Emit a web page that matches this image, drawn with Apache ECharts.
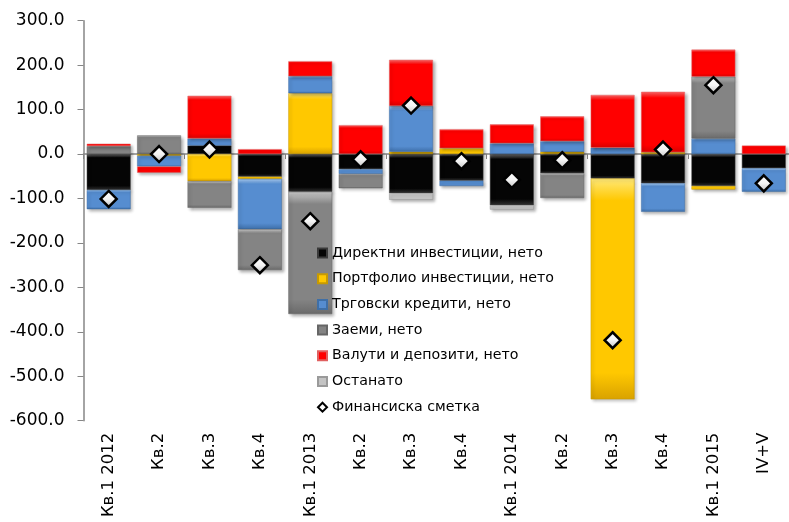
<!DOCTYPE html>
<html>
<head>
<meta charset="utf-8">
<script src="https://cdn.jsdelivr.net/npm/echarts@6/dist/echarts.min.js"></script>
<style>
  html, body { margin: 0; padding: 0; background: #fff; }
  #chart { width: 789px; height: 522px; }
</style>
</head>
<body>
<div id="chart"></div>
<script>
// Quarterly categories
const categories = ['Кв.1 2012', 'Кв.2', 'Кв.3', 'Кв.4', 'Кв.1 2013', 'Кв.2', 'Кв.3', 'Кв.4',
                    'Кв.1 2014', 'Кв.2', 'Кв.3', 'Кв.4', 'Кв.1 2015', 'IV+V'];

// Components of the financial account (stacked)
const directInvestment    = [-81, 0, 19, -51, -85, -34, -88, -60, -115, -43, -55, -66, -72, -32];
const portfolioInvestment = [0, -4, -61, -5, 137, 0, 5, 13, 0, 5, -497, 4, -8, 0];
const tradeCredits        = [-43, -24, 16, -113, 38, -11, 103, -12, 24, 24, 14, -64, 35, -53];
const loans               = [18, 42, -60, -92, -275, -32, 0, 0, 0, -56, 0, 0, 139, 0];
const currencyDeposits    = [5, -14, 96, 11, 34, 65, 104, 43, 43, 56, 119, 136, 61, 19];
const otherItems          = [0, 0, 0, 0, 0, 0, -15, 0, -10, 0, 0, 0, 0, 0];

// Financial account total
const financialAccount    = [-101, 0, 10, -250, -151, -12, 109, -16, -58, -14, -419, 10, 155, -66];

// Y axis range
const yMin = -600, yMax = 300, yStep = 100;

const FONT = 'DejaVu Sans';
const AXIS_GREY = '#868686';

// Bevelled fill: light top edge, flat body, darker bottom edge
function bevel(light, main, dark) {
  return new echarts.graphic.LinearGradient(0, 0, 0, 1, [
    { offset: 0, color: light },
    { offset: 0.1, color: main },
    { offset: 0.88, color: main },
    { offset: 1, color: dark }
  ]);
}

const barShadow = {
  shadowBlur: 3,
  shadowOffsetX: 2,
  shadowOffsetY: 2,
  shadowColor: 'rgba(0,0,0,0.3)'
};

// empty components are left out of the stack so they leave no outline
const skipZero = arr => arr.map(v => (v === 0 ? null : v));

function barSeries(name, data, fill, border) {
  return {
    name: name,
    type: 'bar',
    stack: 'fa',
    data: skipZero(data),
    barCategoryGap: '13%',
    itemStyle: Object.assign({ color: fill, borderColor: border, borderWidth: 0.5 }, barShadow),
    emphasis: { disabled: true }
  };
}

const chart = echarts.init(document.getElementById('chart'), null, { renderer: 'canvas' });

const series = [
  barSeries('Директни инвестиции, нето', directInvestment, bevel('#7a7a7a', '#050505', '#303030'), '#3a3a3a'),
  barSeries('Портфолио инвестиции, нето', portfolioInvestment, bevel('#ffe878', '#ffc800', '#d9a200'), '#c89a00'),
  barSeries('Трговски кредити, нето', tradeCredits, bevel('#a8cdf5', '#568dd0', '#3d6ea8'), '#3f6fa6'),
  barSeries('Заеми, нето', loans, bevel('#c8c8c8', '#848484', '#6a6a6a'), '#666666'),
  barSeries('Валути и депозити, нето', currencyDeposits, bevel('#ff6a6a', '#ff0000', '#d80000'), '#e06060'),
  barSeries('Останато', otherItems, bevel('#f2f2f2', '#c4c4c4', '#a8a8a8'), '#9a9a9a'),
  {
    name: 'Финансиска сметка',
    type: 'line',
    data: financialAccount,
    symbol: 'diamond',
    symbolSize: 16,
    showSymbol: true,
    lineStyle: { width: 0, opacity: 0 },
    itemStyle: {
      color: new echarts.graphic.LinearGradient(0, 0, 0, 1, [
        { offset: 0, color: '#ffffff' },
        { offset: 0.5, color: '#f4f4f4' },
        { offset: 1, color: '#bdbdbd' }
      ]),
      borderColor: '#000',
      borderWidth: 2.5
    },
    z: 10,
    emphasis: { disabled: true }
  }
];

chart.setOption({
  animation: false,
  backgroundColor: '#ffffff',
  grid: { left: 83.5, right: -3.5, top: 20.7, bottom: 101.3, containLabel: false },
  legend: {
    orient: 'vertical',
    left: 317,
    top: 244,
    padding: 0,
    itemGap: 7.7,
    itemWidth: 9,
    itemHeight: 9,
    textStyle: { fontFamily: FONT, fontSize: 14.2, color: '#000', lineHeight: 18 },
    data: [
      { name: 'Директни инвестиции, нето', icon: 'rect' },
      { name: 'Портфолио инвестиции, нето', icon: 'rect' },
      { name: 'Трговски кредити, нето', icon: 'rect' },
      { name: 'Заеми, нето', icon: 'rect' },
      { name: 'Валути и депозити, нето', icon: 'rect' },
      { name: 'Останато', icon: 'rect' },
      { name: 'Финансиска сметка', icon: 'diamond', itemStyle: { color: '#fff', borderColor: '#000', borderWidth: 2 } }
    ]
  },
  xAxis: [
    {
      // zero line with category ticks
      type: 'category',
      data: categories,
      axisLine: { onZero: true, lineStyle: { color: AXIS_GREY, width: 1.5 } },
      axisTick: { show: true, length: 5, lineStyle: { color: AXIS_GREY } },
      axisLabel: { show: false },
      splitLine: { show: false }
    },
    {
      // category labels along the bottom
      type: 'category',
      data: categories,
      position: 'bottom',
      axisLine: { show: false, onZero: false },
      axisTick: { show: false },
      axisLabel: {
        rotate: 90,
        margin: 12,
        interval: 0,
        fontFamily: FONT,
        fontSize: 16.5,
        color: '#000'
      },
      splitLine: { show: false }
    }
  ],
  yAxis: {
    type: 'value',
    min: yMin,
    max: yMax,
    interval: yStep,
    axisLine: { show: true, lineStyle: { color: AXIS_GREY, width: 1.5 } },
    axisTick: { show: true, length: 6, lineStyle: { color: AXIS_GREY } },
    splitLine: { show: false },
    axisLabel: {
      margin: 19,
      fontFamily: FONT,
      fontSize: 17,
      color: '#000',
      formatter: v => v.toFixed(1)
    }
  },
  series: series
});
</script>
</body>
</html>
